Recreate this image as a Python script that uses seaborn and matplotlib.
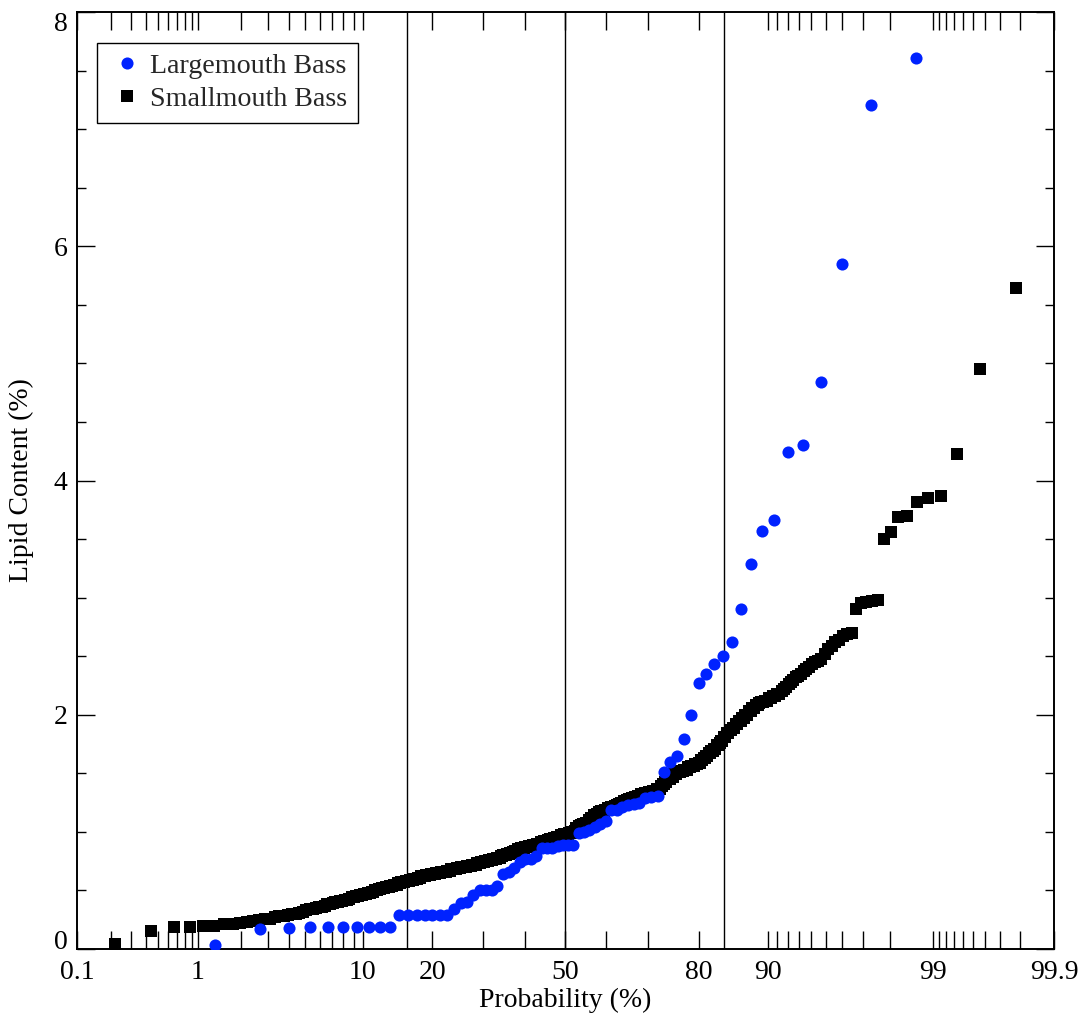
import numpy as np
import pandas as pd
import matplotlib
matplotlib.use("Agg")
import matplotlib.pyplot as plt
import seaborn as sns
from statistics import NormalDist
from matplotlib.lines import Line2D
from matplotlib.ticker import FixedLocator, FixedFormatter, MultipleLocator, NullFormatter

# ---------------- data (sorted lipid content, %) ----------------
lm_values = [0.03, 0.17, 0.18, 0.19, 0.19, 0.19, 0.19, 0.19, 0.19, 0.19,
             0.29, 0.29, 0.29, 0.29, 0.29, 0.29, 0.29, 0.34, 0.39, 0.40,
             0.46, 0.50, 0.50, 0.50, 0.54, 0.64, 0.66, 0.69, 0.74, 0.77,
             0.77, 0.79, 0.86, 0.86, 0.86, 0.88, 0.89, 0.89, 0.89, 0.99,
             1.00, 1.02, 1.04, 1.07, 1.09, 1.19, 1.19, 1.21, 1.23, 1.24,
             1.25, 1.29, 1.30, 1.31, 1.51, 1.60, 1.65, 1.79, 2.00, 2.27,
             2.35, 2.43, 2.50, 2.62, 2.90, 3.29, 3.57, 3.66, 4.24, 4.30,
             4.84, 5.85, 7.21, 7.61]

sm_levels = [0.04, 0.15, 0.19, 0.20, 0.21, 0.22, 0.23, 0.24, 0.25, 0.26,
             0.27, 0.28, 0.29, 0.30, 0.31, 0.32, 0.33, 0.34, 0.35, 0.36,
             0.37, 0.38, 0.39, 0.40, 0.41, 0.42, 0.43, 0.44, 0.45, 0.46,
             0.47, 0.48, 0.49, 0.50, 0.51, 0.52, 0.53, 0.54, 0.55, 0.56,
             0.57, 0.58, 0.59, 0.60, 0.61, 0.62, 0.63, 0.64, 0.65, 0.66,
             0.67, 0.68, 0.69, 0.70, 0.71, 0.72, 0.73, 0.74, 0.75, 0.76,
             0.77, 0.78, 0.79, 0.80, 0.81, 0.82, 0.83, 0.84, 0.85, 0.86,
             0.87, 0.88, 0.89, 0.90, 0.91, 0.92, 0.93, 0.94, 0.95, 0.96,
             0.97, 0.98, 0.99, 1.00, 1.01, 1.03, 1.05, 1.06, 1.07, 1.08,
             1.10, 1.12, 1.14, 1.15, 1.17, 1.18, 1.19, 1.20, 1.21, 1.22,
             1.23, 1.24, 1.25, 1.26, 1.27, 1.28, 1.29, 1.30, 1.31, 1.32,
             1.33, 1.34, 1.35, 1.37, 1.39, 1.41, 1.43, 1.45, 1.47, 1.49,
             1.51, 1.52, 1.53, 1.55, 1.56, 1.58, 1.59, 1.61, 1.63, 1.65,
             1.67, 1.69, 1.71, 1.74, 1.76, 1.78, 1.81, 1.84, 1.87, 1.89,
             1.92, 1.95, 1.97, 2.00, 2.03, 2.06, 2.08, 2.10, 2.11, 2.12,
             2.14, 2.16, 2.18, 2.20, 2.22, 2.24, 2.26, 2.28, 2.30, 2.32,
             2.33, 2.35, 2.37, 2.39, 2.41, 2.43, 2.45, 2.46, 2.48, 2.52,
             2.56, 2.59, 2.62, 2.64, 2.67, 2.69, 2.70, 2.90, 2.95, 2.96,
             2.97, 2.98, 3.50, 3.56, 3.69, 3.70, 3.82, 3.85, 3.87, 4.23,
             4.95, 5.64]
sm_counts = [1, 1, 2, 2, 2, 1, 1, 1, 1, 2,
             1, 2, 1, 2, 1, 1, 1, 2, 1, 2,
             1, 2, 1, 2, 2, 2, 1, 2, 2, 2,
             2, 2, 2, 2, 2, 2, 3, 2, 3, 2,
             3, 3, 3, 3, 2, 4, 4, 4, 4, 5,
             4, 5, 4, 5, 5, 5, 4, 4, 4, 4,
             4, 4, 3, 4, 3, 3, 3, 3, 3, 4,
             5, 4, 5, 4, 4, 4, 3, 4, 4, 4,
             4, 5, 4, 3, 2, 3, 2, 3, 3, 3,
             3, 3, 3, 3, 2, 4, 4, 3, 4, 3,
             2, 2, 3, 3, 3, 3, 3, 3, 3, 4,
             4, 4, 4, 4, 2, 2, 2, 3, 3, 3,
             3, 3, 3, 3, 3, 3, 2, 2, 2, 2,
             2, 2, 2, 2, 1, 2, 2, 2, 2, 2,
             2, 2, 2, 2, 2, 2, 2, 1, 2, 2,
             2, 2, 2, 1, 1, 1, 1, 1, 1, 1,
             1, 1, 1, 1, 1, 1, 1, 1, 1, 1,
             1, 1, 1, 1, 1, 1, 1, 1, 1, 1,
             1, 1, 1, 1, 1, 1, 1, 1, 1, 1,
             1, 1]

x_tick_values = [0.1, 1, 10, 20, 50, 80, 90, 99, 99.9]
x_tick_labels = ["0.1", "1", "10", "20", "50", "80", "90", "99", "99.9"]
x_minor_values = [0.2, 0.3, 0.4, 0.5, 0.6, 0.7, 0.8, 0.9,
                  2, 3, 4, 5, 6, 7, 8, 9, 30, 40, 60, 70,
                  91, 92, 93, 94, 95, 96, 97, 98,
                  99.1, 99.2, 99.3, 99.4, 99.5, 99.6, 99.7, 99.8]
ref_lines = [15.87, 50.0, 84.13]
y_ticks = [0, 2, 4, 6, 8]

series_names = ["Largemouth Bass", "Smallmouth Bass"]
blue = "#0022ff"

# ---------------- build tables (Weibull plotting positions) ----------------
lm = np.sort(np.array(lm_values))
sm = np.repeat(np.array(sm_levels), np.array(sm_counts))


def plotting_positions(vals):
    n = len(vals)
    return 100.0 * np.arange(1, n + 1) / (n + 1)


df_lm = pd.DataFrame({"prob": plotting_positions(lm), "lipid": lm})
df_sm = pd.DataFrame({"prob": plotting_positions(sm), "lipid": sm})

# ---------------- normal-probability scale ----------------
ND = NormalDist()
_ppf = np.vectorize(ND.inv_cdf, otypes=[float])
_cdf = np.vectorize(ND.cdf, otypes=[float])


def fwd(p):
    p = np.asarray(p, dtype=float)
    q = np.clip(p / 100.0, 1e-10, 1 - 1e-10)
    q = np.where(np.isfinite(q), q, 0.5)
    return _ppf(q)


def inv(z):
    z = np.asarray(z, dtype=float)
    z = np.where(np.isfinite(z), z, 0.0)
    return _cdf(z) * 100.0


# ---------------- figure ----------------
sns.set_theme(style="ticks")
plt.rcParams["font.family"] = ["Liberation Serif", "DejaVu Serif"]

fig = plt.figure(figsize=(10.86, 10.27), dpi=100)
ax = fig.add_axes([77 / 1086, 1 - 949 / 1027, (1054 - 77) / 1086, (949 - 12) / 1027])

for xv in ref_lines:
    ax.axvline(xv, color="black", lw=1.0, zorder=1)

sns.scatterplot(data=df_sm, x="prob", y="lipid", marker="s", color="black",
                s=64, linewidth=0, ax=ax, zorder=3, legend=False)
sns.scatterplot(data=df_lm, x="prob", y="lipid", marker="o", color=blue,
                s=76, linewidth=0, ax=ax, zorder=4, legend=False)

ax.set_xscale("function", functions=(fwd, inv))
ax.set_xlim(0.1, 99.9)
ax.set_ylim(0, 8)

ax.xaxis.set_major_locator(FixedLocator(x_tick_values))
ax.xaxis.set_major_formatter(FixedFormatter(x_tick_labels))
ax.xaxis.set_minor_locator(FixedLocator(x_minor_values))
ax.xaxis.set_minor_formatter(NullFormatter())

ax.yaxis.set_major_locator(FixedLocator(y_ticks))
ax.yaxis.set_major_formatter(FixedFormatter([str(v) for v in y_ticks]))
ax.yaxis.set_minor_locator(MultipleLocator(0.5))

ax.tick_params(axis="x", which="both", direction="in", top=True, bottom=True,
               length=13, width=1.0, color="black", labelsize=20, pad=8,
               labelcolor="black")
ax.tick_params(axis="y", which="major", direction="in", left=True, right=True,
               length=13, width=1.0, color="black", labelsize=20, pad=7,
               labelcolor="black")
ax.tick_params(axis="y", which="minor", direction="in", left=True, right=True,
               length=6.5, width=1.0, color="black")

for sp in ax.spines.values():
    sp.set_color("black")
    sp.set_linewidth(1.4)

ax.set_xlabel("Probability (%)", fontsize=20, color="black", labelpad=2)
ax.set_ylabel("Lipid Content (%)", fontsize=20, color="black", labelpad=14)

yt = ax.yaxis.get_major_ticks()
yt[0].label1.set_va("baseline")
yt[-1].label1.set_va("top")

h1 = Line2D([], [], marker="o", ls="", color=blue, markersize=8.7, markeredgewidth=0)
h2 = Line2D([], [], marker="s", ls="", color="black", markersize=8.0, markeredgewidth=0)
leg = ax.legend([h1, h2], series_names, loc="upper left",
                bbox_to_anchor=(20 / 977, 1 - 31 / 937), borderaxespad=0,
                frameon=True, fancybox=False, edgecolor="black", framealpha=1,
                fontsize=20.2, handlelength=1.4, handletextpad=0.1,
                borderpad=0.38, labelspacing=0.26)
leg.get_frame().set_linewidth(1.0)

fig.savefig("out.png", dpi=100)
